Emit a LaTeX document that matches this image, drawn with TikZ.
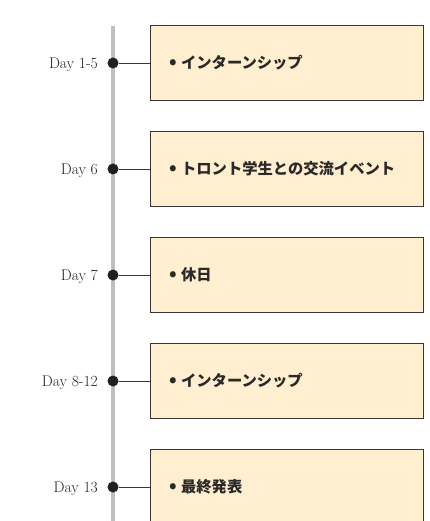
\documentclass[tikz,border=0pt]{standalone}
\usepackage{fontspec}
\newfontfamily\jpfont{Noto Sans CJK JP}
\definecolor{boxfill}{HTML}{FFEFD0}
\definecolor{boxline}{HTML}{3A3533}
\definecolor{tlgray}{HTML}{BEBEC3}
\definecolor{dotcol}{HTML}{231F20}
\definecolor{txtcol}{HTML}{2B2828}
\begin{document}
\begin{tikzpicture}[x=1pt,y=-1pt,
  eventbox/.style={draw=boxline,line width=0.9pt,fill=boxfill,minimum height=75pt,
    text width=235pt,inner xsep=19pt,align=left,anchor=west,text=txtcol,
    font=\jpfont\bfseries\fontsize{15.3}{18}\selectfont},
  tldot/.style={circle,fill=dotcol,inner sep=0pt,minimum size=11pt},
  daylabel/.style={anchor=east,inner sep=0pt,text=dotcol,font=\fontsize{15.5}{18}\selectfont},
  conn/.style={draw=boxline,line width=0.8pt}]
\useasboundingbox (0,0) rectangle (430,521);
\clip (0,0) rectangle (430,521);
\coordinate (tltop) at (113,26);
\coordinate (tlbot) at (113,530);
\draw[tlgray,line width=4pt] (tltop) -- (tlbot);
\foreach \i/\y/\day/\txt in {1/63/Day 1-5/インターンシップ,
  2/169/Day 6/トロント学生との交流イベント,
  3/275/Day 7/休日,
  4/381/Day 8-12/インターンシップ,
  5/487/Day 13/最終発表}{
  \node[eventbox] (b\i) at (150,\y) {\scalebox{1.25}{•}\hspace{4pt}\txt};
  \node[tldot] (d\i) at (113,\y) {};
  \node[daylabel] (l\i) at (98,\y+2) {\day};
  \draw[conn] (d\i) -- (b\i.west);
}
\end{tikzpicture}
\end{document}
